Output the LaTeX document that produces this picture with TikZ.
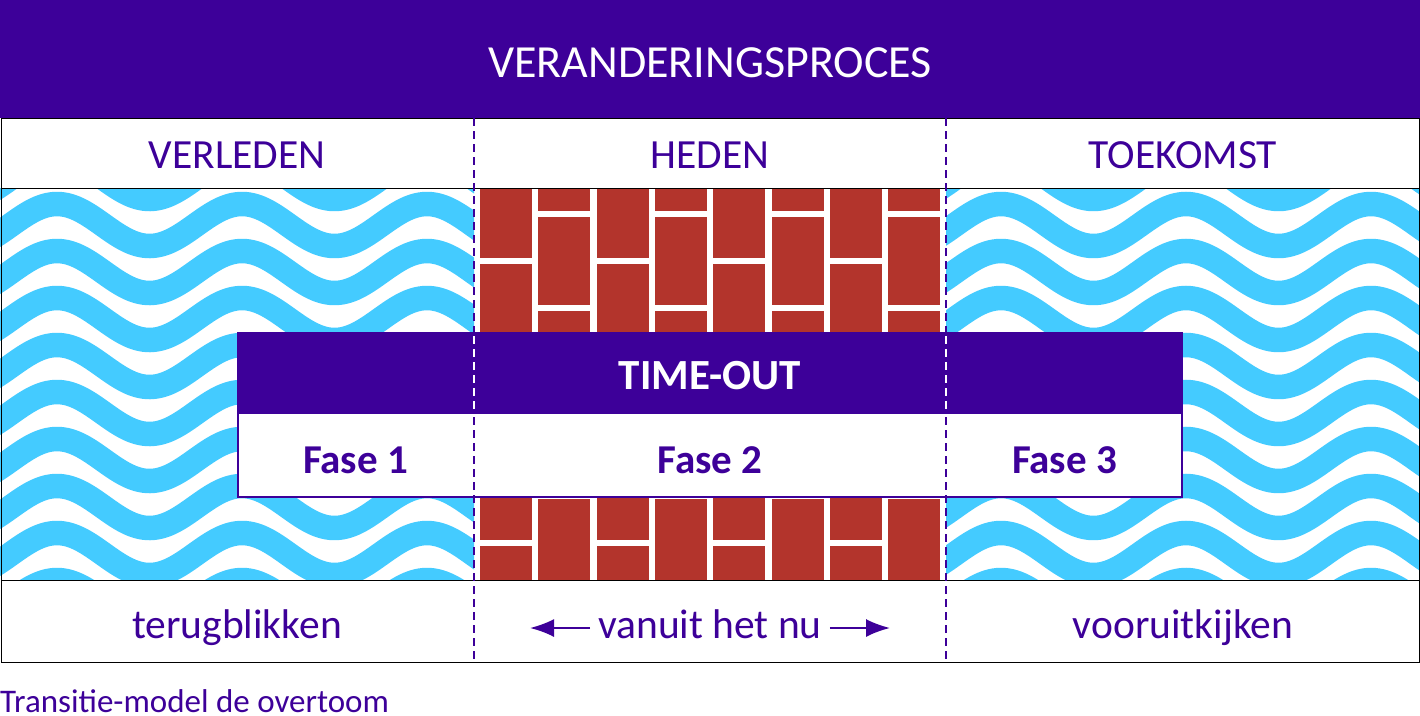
\documentclass[tikz,border=0pt]{standalone}
\usepackage{fontspec}
\setmainfont{Carlito}
\usepackage{xcolor}
\usepackage{tikz}
\usetikzlibrary{scopes,arrows.meta}
\definecolor{paars}{RGB}{61,0,153}
\definecolor{golfblauw}{RGB}{68,203,255}
\definecolor{baksteen}{RGB}{179,52,44}

\begin{document}
\begin{tikzpicture}[x=1pt,y=-1pt,
      kader/.style={draw=paars,line width=2pt},
      golf/.style={draw=golfblauw,line width=24.5pt},
      steen/.style={fill=baksteen},
      streep/.style={draw=paars,line width=2pt,dash pattern=on 8pt off 5pt},
      kop/.style={text=white,font=\fontsize{46}{50}\selectfont,anchor=base},
      tijd/.style={text=paars,font=\fontsize{41.5}{45}\selectfont,anchor=base},
      fase/.style={text=paars,font=\fontsize{41}{45}\selectfont\bfseries,anchor=base},
      pijl/.style={draw=paars,line width=2pt,-{Latex[length=24pt,width=18pt]}}
]
      \useasboundingbox (0,0) rectangle (1420,715);
      \fill[white] (0,0) rectangle (1420,715);
      \fill[paars] (0,0) rectangle (1420,118);
      \node[kop] (proces) at (710,77) {VERANDERINGSPROCES};

      \foreach \xa/\xb/\xo/\da/\db in {0/474/57/-30/504, 946/1420/1001/916/1450} {
          \begin{scope}
              \clip (\xa,188) rectangle (\xb,580);
              \foreach \k in {-2,...,8}
                  \draw[golf] plot[domain=\da:\db,samples=90,smooth]
                      (\x,{225+47*\k-21*cos(1.9459*(\x-\xo))});
          \end{scope}
      }

      \begin{scope}
          \clip (474,188) rectangle (946,580);
          \foreach \i in {0,...,7} {
              \pgfmathsetmacro\bx{480+58.3*\i}
              \pgfmathsetmacro\by{123+47*(1-mod(\i,2))}
              \foreach \j in {0,...,5}
                  \fill[steen] ({\bx},{\by+94*\j}) rectangle ++(52,88);
          }
      \end{scope}

      {[kader]
          \draw (1,118) rectangle (1419,188);
          \draw (1,188) rectangle (1419,580);
          \draw (1,580) rectangle (1419,662);
      }

      \filldraw[kader,fill=white] (238,333) rectangle (1182,497);
      \fill[paars] (237,332) rectangle (1183,414);

      {[streep]
          \draw (474,118) -- (474,662);
          \draw (946,118) -- (946,662);
      }
      {[draw=white,line width=2pt,dash pattern=on 8pt off 5pt]
          \draw (474,336) -- (474,412);
          \draw (946,336) -- (946,412);
      }

      \node[tijd] (verleden) at (237,168) {VERLEDEN};
      \node[tijd] (heden) at (710,168) {HEDEN};
      \node[tijd] (toekomst) at (1183,168) {TOEKOMST};

      \node[fase,text=white,font=\fontsize{43}{47}\selectfont\bfseries] (timeout) at (710,389) {TIME-OUT};
      \node[fase] (fase1) at (355.5,473) {Fase 1};
      \node[fase] (fase2) at (710,473) {Fase 2};
      \node[fase] (fase3) at (1064.5,473) {Fase 3};

      \node[tijd] (terug) at (237,638) {terugblikken};
      \node[tijd,inner sep=8pt] (nu) at (710,638) {vanuit het nu};
      \node[tijd] (vooruit) at (1183,638) {vooruitkijken};
      \coordinate (nuL) at (530,628);
      \coordinate (nuR) at (890,628);
      {[pijl]
          \draw ([yshift=10pt]nu.base west) -- (nuL);
          \draw ([yshift=10pt]nu.base east) -- (nuR);
      }

      \node[anchor=base west,inner sep=0pt,text=paars,font=\fontsize{33}{37}\selectfont]
          (bron) at (0,712) {Transitie-model de overtoom};
\end{tikzpicture}
\end{document}
